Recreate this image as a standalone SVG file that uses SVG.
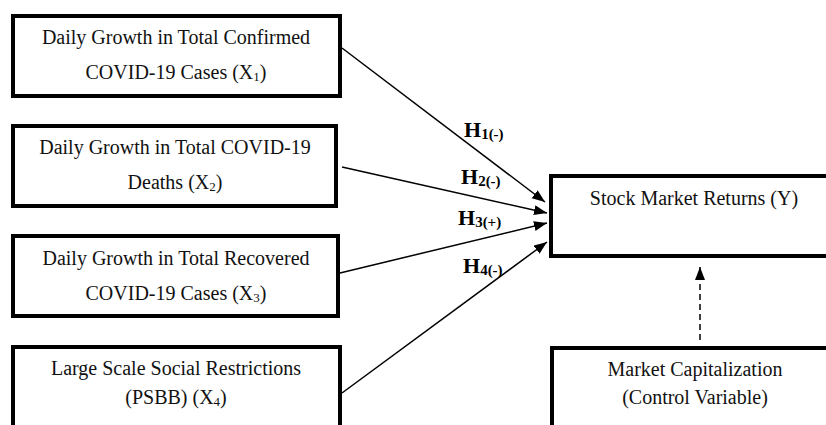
<svg xmlns="http://www.w3.org/2000/svg" width="826" height="425" viewBox="0 0 826 425">
<style>
.box{fill:#fff;stroke:#000;stroke-width:4}
.t{font-family:"Liberation Serif","Times New Roman",serif;font-size:20px;fill:#111;text-anchor:middle}
.sub{font-size:13px}
.h{font-family:"Liberation Serif","Times New Roman",serif;font-size:22px;font-weight:bold;fill:#000}
.hs{font-size:15px}
.c{stroke:#000;stroke-width:1.5;fill:none}
.d{stroke-dasharray:6 4}
</style>
<defs>
<marker id="ah" markerUnits="userSpaceOnUse" markerWidth="14" markerHeight="12" refX="13" refY="5" orient="auto">
<path d="M0,0 L13,5 L0,10 z" fill="#000"/>
</marker>
</defs>
<rect width="826" height="425" fill="#fff"/>
<g id="x1">
<rect class="box" x="13" y="16" width="327" height="80"/>
<text class="t" x="176" y="44">Daily Growth in Total Confirmed</text>
<text class="t" x="176" y="79">COVID-19 Cases (X<tspan class="sub" dy="2">1</tspan><tspan dy="-2">)</tspan></text>
</g>
<g id="x2">
<rect class="box" x="13" y="126" width="323" height="80"/>
<text class="t" x="175" y="154">Daily Growth in Total COVID-19</text>
<text class="t" x="175" y="189">Deaths (X<tspan class="sub" dy="2">2</tspan><tspan dy="-2">)</tspan></text>
</g>
<g id="x3">
<rect class="box" x="13" y="236" width="325" height="80"/>
<text class="t" x="176" y="265">Daily Growth in Total Recovered</text>
<text class="t" x="176" y="300">COVID-19 Cases (X<tspan class="sub" dy="2">3</tspan><tspan dy="-2">)</tspan></text>
</g>
<g id="x4">
<rect class="box" x="13" y="347" width="327" height="100"/>
<text class="t" x="176" y="375">Large Scale Social Restrictions</text>
<text class="t" x="176" y="404">(PSBB) (X<tspan class="sub" dy="2">4</tspan><tspan dy="-2">)</tspan></text>
</g>
<g id="y">
<rect class="box" x="551" y="176" width="300" height="80"/>
<text class="t" x="694" y="205">Stock Market Returns (Y)</text>
</g>
<g id="control">
<rect class="box" x="552" y="348" width="300" height="100"/>
<text class="t" x="695" y="376">Market Capitalization</text>
<text class="t" x="695" y="404">(Control Variable)</text>
</g>
<g id="connectors">
<line class="c" x1="342" y1="48" x2="545" y2="202" marker-end="url(#ah)"/>
<line class="c" x1="342" y1="167" x2="547" y2="213" marker-end="url(#ah)"/>
<line class="c" x1="340" y1="273" x2="547" y2="223" marker-end="url(#ah)"/>
<line class="c" x1="342" y1="393" x2="547" y2="242" marker-end="url(#ah)"/>
<line class="c d" x1="700" y1="340" x2="700" y2="267" marker-end="url(#ah)"/>
<text class="h" x="464" y="137">H<tspan class="hs" dy="2">1(-)</tspan></text>
<text class="h" x="461" y="184">H<tspan class="hs" dy="2">2(-)</tspan></text>
<text class="h" x="458" y="225">H<tspan class="hs" dy="2">3(+)</tspan></text>
<text class="h" x="463" y="273">H<tspan class="hs" dy="2">4(-)</tspan></text>
</g>
</svg>
